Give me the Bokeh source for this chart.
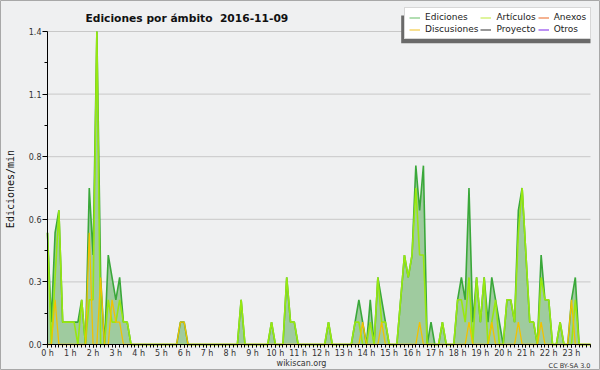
from bokeh.plotting import figure
from bokeh.models import (Range1d, FixedTicker, CustomJSTickFormatter, Label, Legend,
                          LegendItem, BoxAnnotation, ColumnDataSource)
from bokeh.embed import file_html
from bokeh.resources import INLINE

# ---- data: edits per minute, 10-minute bins (6 per hour), 2016-11-09 ----
ediciones = [
    0.5, 0.1, 0.5, 0.6, 0.1, 0.1,   # 0 h
    0.1, 0.1, 0.1, 0.2, 0.0, 0.7,   # 1 h
    0.4, 1.4, 0.3, 0.0, 0.4, 0.3,   # 2 h
    0.2, 0.3, 0.1, 0.1, 0.0, 0.0,   # 3 h
    0.0, 0.0, 0.0, 0.0, 0.0, 0.0,   # 4 h
    0.0, 0.0, 0.0, 0.0, 0.0, 0.1,   # 5 h
    0.1, 0.0, 0.0, 0.0, 0.0, 0.0,   # 6 h
    0.0, 0.0, 0.0, 0.0, 0.0, 0.0,   # 7 h
    0.0, 0.0, 0.0, 0.2, 0.0, 0.0,   # 8 h
    0.0, 0.0, 0.0, 0.0, 0.0, 0.1,   # 9 h
    0.0, 0.0, 0.0, 0.3, 0.1, 0.1,   # 10 h
    0.0, 0.0, 0.0, 0.0, 0.0, 0.0,   # 11 h
    0.0, 0.0, 0.1, 0.0, 0.0, 0.0,   # 12 h
    0.0, 0.0, 0.0, 0.1, 0.2, 0.1,   # 13 h
    0.0, 0.2, 0.0, 0.3, 0.2, 0.1,   # 14 h
    0.0, 0.0, 0.0, 0.2, 0.4, 0.3,   # 15 h
    0.4, 0.8, 0.6, 0.8, 0.0, 0.1,   # 16 h
    0.0, 0.0, 0.1, 0.0, 0.0, 0.0,   # 17 h
    0.2, 0.3, 0.2, 0.7, 0.1, 0.3,   # 18 h
    0.1, 0.3, 0.1, 0.3, 0.2, 0.1,   # 19 h
    0.0, 0.2, 0.2, 0.1, 0.6, 0.7,   # 20 h
    0.4, 0.1, 0.1, 0.0, 0.4, 0.2,   # 21 h
    0.2, 0.0, 0.0, 0.1, 0.0, 0.0,   # 22 h
    0.2, 0.3, 0.0, 0.0, 0.0, 0.0,   # 23 h
]
articulos = [
    0.5, 0.0, 0.3, 0.6, 0.1, 0.1,
    0.1, 0.1, 0.0, 0.2, 0.0, 0.2,
    0.2, 1.4, 0.0, 0.0, 0.2, 0.1,
    0.1, 0.2, 0.1, 0.1, 0.0, 0.0,
    0.0, 0.0, 0.0, 0.0, 0.0, 0.0,
    0.0, 0.0, 0.0, 0.0, 0.0, 0.0,
    0.0, 0.0, 0.0, 0.0, 0.0, 0.0,
    0.0, 0.0, 0.0, 0.0, 0.0, 0.0,
    0.0, 0.0, 0.0, 0.2, 0.0, 0.0,
    0.0, 0.0, 0.0, 0.0, 0.0, 0.1,
    0.0, 0.0, 0.0, 0.3, 0.1, 0.1,
    0.0, 0.0, 0.0, 0.0, 0.0, 0.0,
    0.0, 0.0, 0.1, 0.0, 0.0, 0.0,
    0.0, 0.0, 0.0, 0.1, 0.1, 0.0,
    0.0, 0.1, 0.0, 0.3, 0.1, 0.1,
    0.0, 0.0, 0.0, 0.2, 0.4, 0.3,
    0.4, 0.7, 0.4, 0.4, 0.0, 0.0,
    0.0, 0.0, 0.1, 0.0, 0.0, 0.0,
    0.2, 0.2, 0.1, 0.3, 0.0, 0.3,
    0.1, 0.3, 0.0, 0.1, 0.2, 0.0,
    0.0, 0.2, 0.2, 0.1, 0.5, 0.7,
    0.4, 0.1, 0.1, 0.0, 0.3, 0.2,
    0.2, 0.0, 0.0, 0.1, 0.0, 0.0,
    0.0, 0.2, 0.0, 0.0, 0.0, 0.0,
]
discusiones = [
    0.0, 0.0, 0.2, 0.0, 0.0, 0.0,
    0.0, 0.0, 0.0, 0.0, 0.0, 0.5,
    0.0, 0.0, 0.3, 0.0, 0.0, 0.2,
    0.1, 0.1, 0.0, 0.0, 0.0, 0.0,
    0.0, 0.0, 0.0, 0.0, 0.0, 0.0,
    0.0, 0.0, 0.0, 0.0, 0.0, 0.1,
    0.1, 0.0, 0.0, 0.0, 0.0, 0.0,
    0.0, 0.0, 0.0, 0.0, 0.0, 0.0,
    0.0, 0.0, 0.0, 0.0, 0.0, 0.0,
    0.0, 0.0, 0.0, 0.0, 0.0, 0.0,
    0.0, 0.0, 0.0, 0.0, 0.0, 0.0,
    0.0, 0.0, 0.0, 0.0, 0.0, 0.0,
    0.0, 0.0, 0.0, 0.0, 0.0, 0.0,
    0.0, 0.0, 0.0, 0.0, 0.0, 0.1,
    0.0, 0.0, 0.0, 0.0, 0.1, 0.0,
    0.0, 0.0, 0.0, 0.0, 0.0, 0.0,
    0.0, 0.0, 0.1, 0.0, 0.0, 0.0,
    0.0, 0.0, 0.0, 0.0, 0.0, 0.0,
    0.0, 0.0, 0.0, 0.1, 0.0, 0.0,
    0.0, 0.0, 0.0, 0.1, 0.0, 0.0,
    0.0, 0.0, 0.0, 0.0, 0.1, 0.0,
    0.0, 0.0, 0.0, 0.0, 0.1, 0.0,
    0.0, 0.0, 0.0, 0.0, 0.0, 0.0,
    0.2, 0.0, 0.0, 0.0, 0.0, 0.0,
]
slots = list(range(len(ediciones)))          # 10-minute slot index
hour_labels = [f"{h} h" for h in range(24)]
y_tick_values = [0.0, 0.28, 0.56, 0.84, 1.12, 1.4]
y_tick_labels = ["0.0", "0.3", "0.6", "0.8", "1.1", "1.4"]
y_minor_values = [0.14, 0.42, 0.70, 0.98, 1.26]
legend_labels = ["Ediciones", "Artículos", "Anexos", "Discusiones", "Proyecto", "Otros"]
legend_colors = ["#88cc88", "#ccee66", "#ee8855", "#f5d055", "#606060", "#9955ee"]

FONT = "DejaVu Sans"
W, H = 600, 370
# plot area inside the canvas (pixels): left 47, right 590, top 31, bottom 344
last = len(slots) - 1
sx = (590 - 47) / last
sy = (344 - 31) / 1.4

p = figure(width=W, height=H, output_backend="svg", toolbar_location=None, title=None,
           x_range=Range1d(-47 / sx, last + (W - 590) / sx),
           y_range=Range1d(-(H - 344) / sy, 1.4 + 31 / sy),
           min_border=0)
p.background_fill_color = "#eff0f1"
p.border_fill_color = "#eff0f1"
p.outline_line_color = "#a8a8a8"

# horizontal grid lines, under the data
p.segment(x0=0, x1=last, y0=y_tick_values[1:], y1=y_tick_values[1:],
          line_color="#c8c8c8", line_width=1)

src = ColumnDataSource(dict(x=slots, e=ediciones, a=articulos, d=discusiones))
p.varea(x="x", y1=0, y2="e", source=src, fill_color="#9fcb9f", fill_alpha=1.0)
p.line(x="x", y="e", source=src, line_color="#3aa83a", line_width=1.6)
p.line(x="x", y="a", source=src, line_color="#98e810", line_width=1.6)
p.line(x="x", y="d", source=src, line_color="#f2c200", line_width=1.3)

# axes, pinned to the data origin
xa = p.xaxis[0]
xa.fixed_location = 0
xa.bounds = (0, last)
xa.ticker = FixedTicker(ticks=list(range(0, len(slots), 6)), minor_ticks=slots)
xa.formatter = CustomJSTickFormatter(args=dict(hlabels=hour_labels),
                                     code="return hlabels[Math.round(tick / 6)] || '';")
ya = p.yaxis[0]
ya.fixed_location = 0
ya.bounds = (0, 1.4)
ya.ticker = FixedTicker(ticks=y_tick_values, minor_ticks=y_minor_values)
ya.formatter = CustomJSTickFormatter(
    args=dict(tvals=y_tick_values, tlabels=y_tick_labels),
    code="const k = tvals.findIndex(t => Math.abs(t - tick) < 1e-6); return k >= 0 ? tlabels[k] : '';")
for ax in (xa, ya):
    ax.axis_line_color = "black"
    ax.major_tick_line_color = "black"
    ax.minor_tick_line_color = "black"
    ax.major_tick_in = 0
    ax.minor_tick_in = 0
    ax.major_label_text_font = FONT
    ax.major_label_text_font_size = "8px"
    ax.major_label_text_color = "#333333"
xa.major_tick_out = 3
xa.minor_tick_out = 3
xa.major_label_standoff = 1
ya.major_tick_out = 5
ya.minor_tick_out = 3
ya.major_label_standoff = 1
p.xgrid.visible = False
p.ygrid.visible = False

# texts (screen units: x from left, y up from the bottom of the canvas)
p.add_layout(Label(x=85, y=H - 17.5, x_units="screen", y_units="screen",
                   text="Ediciones por ámbito \u00a02016-11-09", text_font=FONT,
                   text_font_size="10.7px", text_font_style="bold", text_color="#111111",
                   text_baseline="alphabetic"))
p.add_layout(Label(x=10, y=H - 188.5, x_units="screen", y_units="screen", angle=1.5708,
                   text="Ediciones/min", text_font="DejaVu Sans Mono",
                   text_font_size="10px", text_color="#111111",
                   text_align="center", text_baseline="middle"))
p.add_layout(Label(x=301, y=H - 363, x_units="screen", y_units="screen",
                   text="wikiscan.org", text_font=FONT, text_font_size="8px",
                   text_color="#333333", text_align="center", text_baseline="alphabetic"))
p.add_layout(Label(x=590, y=H - 365, x_units="screen", y_units="screen",
                   text="CC BY-SA 3.0", text_font=FONT, text_font_size="6.5px",
                   text_color="#333333", text_align="right", text_baseline="alphabetic"))

# legend with drop shadow
p.add_layout(BoxAnnotation(left=400.7, right=590, top=H - 15, bottom=H - 42.7,
                           left_units="screen", right_units="screen",
                           top_units="screen", bottom_units="screen",
                           fill_color="#6a6a6a", fill_alpha=1.0, line_color=None))
# legend-only renderers: one NaN point each, so nothing is drawn in the plot
dummy = ColumnDataSource(dict(x=[float("nan")], y=[float("nan")]))
items = []
for lab, col in zip(legend_labels, legend_colors):
    r = p.line(x="x", y="y", source=dummy, line_color=col, line_width=1.3)
    items.append(LegendItem(label=lab, renderers=[r]))
leg = Legend(items=items, location=(404, H - 39.3), ncols=3, orientation="horizontal",
             label_text_font=FONT, label_text_font_size="9px", label_text_color="#222222",
             label_height=9, glyph_height=9, glyph_width=11, label_standoff=5,
             spacing=2, padding=4, margin=0,
             background_fill_color="white", background_fill_alpha=1.0,
             border_line_color="#b0b0b0", border_line_width=1)
p.add_layout(leg, "center")

open("out.html", "w").write(file_html(p, INLINE))
